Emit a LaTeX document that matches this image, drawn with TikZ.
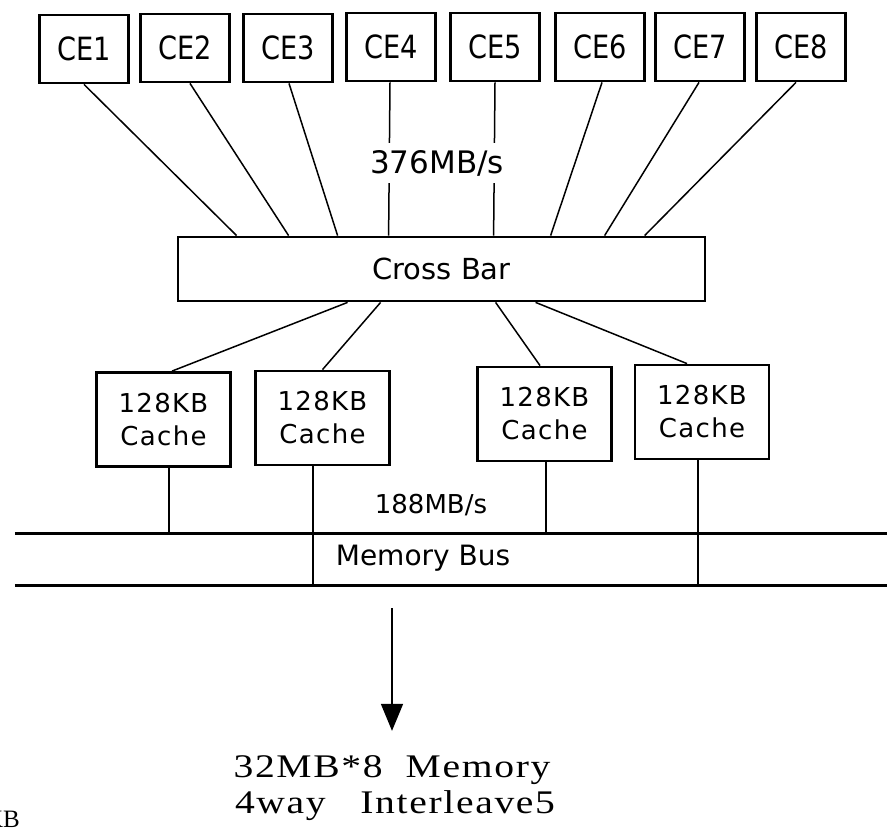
\documentclass[tikz,border=0pt]{standalone}
\usepackage{fontspec}
\setmainfont{DejaVu Sans}
\newfontfamily\cefont[FakeStretch=0.85]{DejaVu Sans}
\newfontfamily\cachefont[LetterSpace=5]{DejaVu Sans}
\newfontfamily\memfont[FakeStretch=1.2,LetterSpace=5]{Liberation Serif}
\newfontfamily\seriffont{Liberation Serif}
\usetikzlibrary{arrows.meta,calc}

\begin{document}
\begin{tikzpicture}[x=1pt,y=-1pt,
  box/.style={draw,line width=2.8pt,inner sep=0pt,align=center},
  cebox/.style={box,minimum width=89pt,minimum height=68pt,
    font=\cefont\fontsize{32}{34}\selectfont},
  cachebox/.style={box,minimum width=134pt,minimum height=94pt,
    font=\cachefont\fontsize{26}{33}\selectfont},
  wire/.style={line width=1.5pt},
  busline/.style={line width=3.3pt},
  rate/.style={inner sep=0pt},
  memtext/.style={anchor=base,inner sep=3pt,font=\memfont\fontsize{33}{36}\selectfont}
]
\useasboundingbox (0,0) rectangle (893,829);
\fill[white] (0,0) rectangle (893,829);

% processor boxes
\node[cebox] (ce1) at (84,49)  {CE1};
\node[cebox] (ce2) at (185,48) {CE2};
\node[cebox] (ce3) at (288,48) {CE3};
\node[cebox] (ce4) at (391,47) {CE4};
\node[cebox] (ce5) at (495,47) {CE5};
\node[cebox] (ce6) at (600,47) {CE6};
\node[cebox] (ce7) at (700,47) {CE7};
\node[cebox] (ce8) at (801,47) {CE8};

% crossbar switch
\node[box,minimum width=527pt,minimum height=64pt,
      font=\fontsize{29}{32}\selectfont] (cb) at (441.5,269) {Cross Bar};

% processor links into the crossbar
\foreach \i/\sx/\dx in {1/0/60,2/5/112,3/1/161,4/-1/212,5/0/317,6/2/374,7/-1/428,8/-5/468}
  \draw[wire] ([xshift=\sx pt]ce\i.south) -- ([xshift=\dx pt]cb.north west);

\node[rate,fill=white,inner xsep=2pt,inner ysep=7pt,
      font=\fontsize{31}{34}\selectfont] (bw1) at (437,163) {376MB/s};

% cache boxes
\node[cachebox] (c1) at (163.5,419.5) {128KB\\Cache};
\node[cachebox] (c2) at (322.5,418)   {128KB\\Cache};
\node[cachebox] (c3) at (544.5,414)   {128KB\\Cache};
\node[cachebox] (c4) at (702,412)     {128KB\\Cache};

\draw[wire] ([xshift=171pt]cb.south west) -- ([xshift=8.5pt]c1.north);
\draw[wire] ([xshift=204pt]cb.south west) -- (c2.north);
\draw[wire] ([xshift=319pt]cb.south west) -- ([xshift=-4.5pt]c3.north);
\draw[wire] ([xshift=359pt]cb.south west) -- ([xshift=-15pt]c4.north);

% memory bus
\node[minimum width=872pt,minimum height=51pt,inner sep=0pt] (bus) at (451,559.5) {};
\draw[busline] (bus.north west) -- (bus.north east);
\draw[busline] (bus.south west) -- (bus.south east);
\node[font=\fontsize{28}{30}\selectfont] (busl) at (423,558) {Memory Bus};

\draw[wire] ([xshift=5.5pt]c1.south)  -- ([xshift=5.5pt]c1.south |- bus.north);
\draw[wire] ([xshift=-9.5pt]c2.south) -- ([xshift=-9.5pt]c2.south |- bus.south);
\draw[wire] ([xshift=1.5pt]c3.south)  -- ([xshift=1.5pt]c3.south |- bus.north);
\draw[wire] ([xshift=-4pt]c4.south)   -- ([xshift=-4pt]c4.south |- bus.south);

\node[rate,font=\fontsize{26}{28}\selectfont] (bw2) at (431,505) {188MB/s};

% main memory
\node[memtext] (mem1) at (392,777) {32MB*8\ \ Memory};
\node[memtext] (mem2) at (395,813) {4way\ \ \ Interleave5};
\draw[line width=1.6pt,-{Triangle[length=27pt,width=22pt]},
      shorten <=23pt,shorten >=21pt] (mem1.north |- bus.south) -- (mem1.north);

\node[anchor=base east,inner sep=0pt,font=\seriffont\fontsize{25}{28}\selectfont]
  (kb) at (20,827) {KB};
\end{tikzpicture}
\end{document}
